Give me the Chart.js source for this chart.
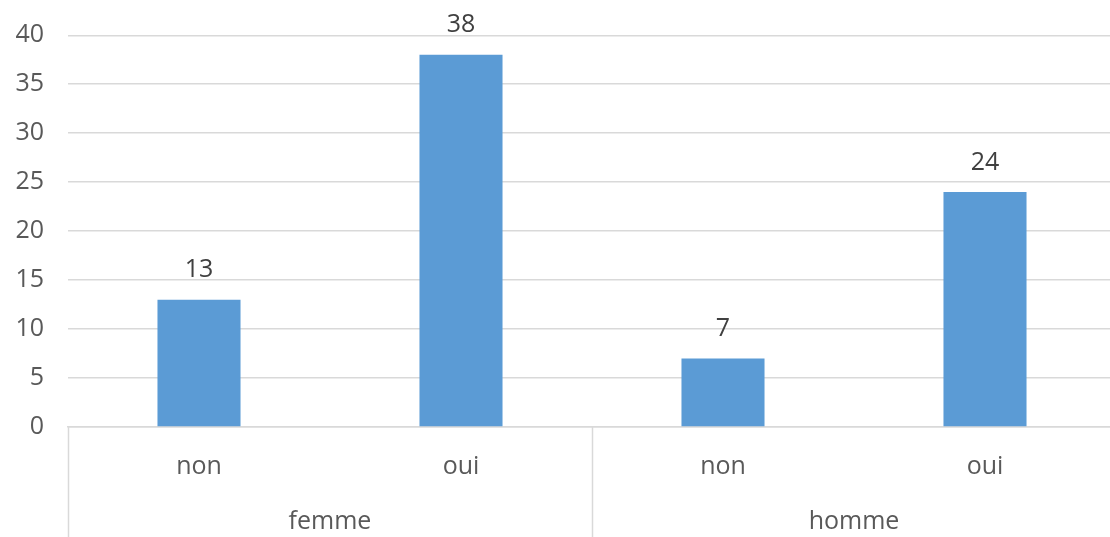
<!DOCTYPE html>
<html><head><meta charset="utf-8">
<script src="https://cdn.jsdelivr.net/npm/chart.js@4/dist/chart.umd.min.js"></script>
<style>html,body{margin:0;padding:0;overflow:hidden;background:#fff}#wrap{width:1116px;height:537px}</style>
</head><body><div id="wrap"><canvas id="c" width="1116" height="537"></canvas></div>
<script>
const subLabels = ['non', 'oui', 'non', 'oui'];
const groups = ['femme', 'homme'];
const groupSize = [2, 2];
const values = [13, 38, 7, 24];
const yTicks = [0, 5, 10, 15, 20, 25, 30, 35, 40];

const FONT = "'Open Sans', sans-serif";
const TEXT = '#595959';
const GRID = '#d9d9d9';

const labelPlugin = {
  id: 'extras',
  afterDraw(chart) {
    const ctx = chart.ctx, x = chart.scales.x, area = chart.chartArea;
    const meta = chart.getDatasetMeta(0);
    ctx.save();
    ctx.font = '25px ' + FONT; ctx.fillStyle = '#404040';
    ctx.textAlign = 'center'; ctx.textBaseline = 'bottom';
    meta.data.forEach((bar, i) => {
      ctx.fillText(String(values[i]), bar.x, bar.y - 17);
    });
    const half = (x.getPixelForValue(1) - x.getPixelForValue(0)) / 2;
    ctx.strokeStyle = GRID; ctx.lineWidth = 1.5;
    let idx = 0;
    const bounds = [];
    groups.forEach((g, gi) => {
      const l = x.getPixelForValue(idx) - half;
      const r = x.getPixelForValue(idx + groupSize[gi] - 1) + half;
      bounds.push(l, r);
      ctx.textBaseline = 'middle'; ctx.fillStyle = TEXT; ctx.font = '25px ' + FONT;
      ctx.fillText(g, (l + r) / 2, 522);
      idx += groupSize[gi];
    });
    [...new Set(bounds.map(b => Math.round(b)))].forEach(b => {
      ctx.beginPath(); ctx.moveTo(b + 0.5, area.bottom); ctx.lineTo(b + 0.5, chart.height); ctx.stroke();
    });
    ctx.restore();
  }
};

new Chart(document.getElementById('c'), {
  type: 'bar',
  data: {
    labels: subLabels,
    datasets: [{ data: values, backgroundColor: '#5B9BD5', barPercentage: 0.317, categoryPercentage: 1 }]
  },
  options: {
    responsive: false, animation: false,
    layout: { padding: { top: 34, left: 0, right: 0, bottom: 0 } },
    plugins: { legend: { display: false }, tooltip: { enabled: false } },
    scales: {
      x: {
        grid: { display: false, drawTicks: false },
        border: { display: true, color: GRID, width: 1.5 },
        ticks: { color: TEXT, font: { family: FONT, size: 25 }, padding: 25 },
        afterFit(s) { s.height = 110; }
      },
      y: {
        min: 0, max: 40,
        afterBuildTicks(s) { s.ticks = yTicks.map(v => ({ value: v })); },
        grid: { color: GRID, lineWidth: 1.5, drawTicks: false },
        border: { display: false },
        ticks: { color: TEXT, font: { family: FONT, size: 25, lineHeight: 0.9 }, padding: 24 },
        afterFit(s) { s.width = 68; }
      }
    }
  },
  plugins: [labelPlugin]
});
</script></body></html>
